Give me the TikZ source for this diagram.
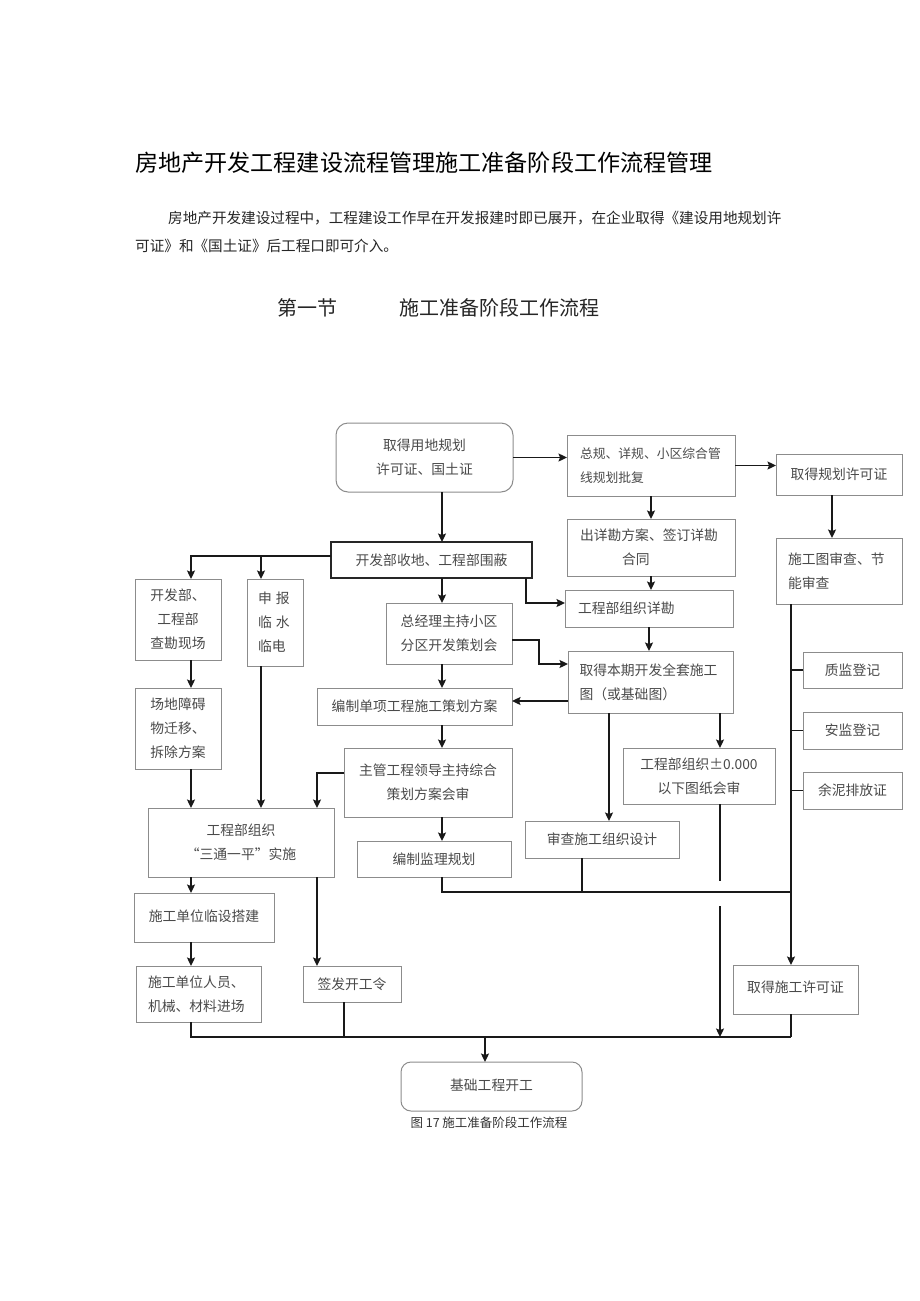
\documentclass[tikz,border=0pt]{standalone}
\usepackage{fontspec}
\setmainfont{Noto Sans CJK SC}
\usetikzlibrary{arrows.meta}
\definecolor{boxline}{HTML}{8C8C8C}
\definecolor{boxtext}{HTML}{4A4A4A}
\tikzset{
  box/.style={draw=boxline, line width=1pt, inner sep=0pt, outer sep=0pt, text=boxtext,
    font=\fontsize{13.8}{24}\selectfont, align=center},
  lbox/.style={box, align=left},
  ln/.style={draw=black!90, line width=1.5pt},
  arr/.style={-{Stealth[length=8.5pt,width=8pt,inset=1.5pt]}},
}
\begin{document}
\begin{tikzpicture}[x=1pt,y=-1pt]
\useasboundingbox (0,0) rectangle (920,1301);
\fill[white] (0,0) rectangle (920,1301);

% headings
\node[anchor=west, inner sep=0pt, font=\fontsize{23.1}{26}\selectfont] (title) at (135,163) {房地产开发工程建设流程管理施工准备阶段工作流程管理};
\node[anchor=north west, inner sep=0pt, align=left, text=black!85, font=\fontsize{14.6}{28}\selectfont] (para) at (135,211) {\hspace*{33pt}房地产开发建设过程中，工程建设工作早在开发报建时即已展开，在企业取得《建设用地规划许\\可证》和《国土证》后工程口即可介入。};
\node[anchor=west, inner sep=0pt, text=black!85, font=\fontsize{20}{24}\selectfont] (sec) at (277,308) {第一节\hspace{62pt}施工准备阶段工作流程};

% boxes
\node[box, rounded corners=12pt, minimum width=177pt, minimum height=69pt] (t1) at (424.5,457.5) {取得用地规划\\许可证、国土证};
\node[lbox, text width=142pt, font=\fontsize{12.8}{24}\selectfont, minimum width=168pt, minimum height=61pt] (t2) at (651,465.5) {总规、详规、小区综合管\\线规划批复};
\node[lbox, text width=142pt, minimum width=168pt, minimum height=57pt] (t3) at (651,547.5) {出详勘方案、签订详勘\\\hspace*{42pt}合同};
\node[box, draw=black!85, line width=1.5pt, minimum width=201pt, minimum height=36pt] (t4) at (431.5,560) {开发部收地、工程部围蔽};
\node[box, minimum width=86pt, minimum height=81pt] (t5) at (178,619.5) {开发部、\\工程部\\查勘现场};
\node[lbox, text width=34pt, minimum width=56pt, minimum height=87pt] (t6) at (275,622.5) {申\hspace{4pt}报\\临\hspace{4pt}水\\临电};
\node[box, minimum width=86pt, minimum height=81pt] (t7) at (178,728.5) {场地障碍\\物迁移、\\拆除方案};
\node[box, minimum width=126pt, minimum height=61pt] (t8) at (449,633.5) {总经理主持小区\\分区开发策划会};
\node[lbox, text width=142pt, minimum width=168pt, minimum height=37pt] (t9) at (649,608.5) {工程部组织详勘};
\node[lbox, text width=142pt, minimum width=165pt, minimum height=62pt] (t10) at (650.5,682) {取得本期开发全套施工\\图（或基础图）};
\node[box, minimum width=195pt, minimum height=37pt] (t11) at (414.5,706.5) {编制单项工程施工策划方案};
\node[box, minimum width=168pt, minimum height=69pt] (t12) at (428,782.5) {主管工程领导主持综合\\策划方案会审};
\node[box, minimum width=152pt, minimum height=56pt] (t13) at (699,776) {工程部组织±0.000\\以下图纸会审};
\node[box, minimum width=154pt, minimum height=37pt] (t14) at (602,839.5) {审查施工组织设计};
\node[box, minimum width=154pt, minimum height=36pt] (t15) at (434,859) {编制监理规划};
\node[box, minimum width=186pt, minimum height=69pt] (t16) at (241,842.5) {工程部组织\\“三通一平”实施};
\node[box, minimum width=140pt, minimum height=49pt] (t17) at (204,917.5) {\raisebox{4.5pt}{施工单位临设搭建}};
\node[lbox, text width=101pt, minimum width=125pt, minimum height=56pt] (t18) at (198.5,994) {施工单位人员、\\机械、材料进场};
\node[box, minimum width=98pt, minimum height=36pt] (t19) at (352,984) {签发开工令};
\node[box, minimum width=125pt, minimum height=49pt] (t20) at (795.5,989.5) {\raisebox{6.5pt}{取得施工许可证}};
\node[box, minimum width=126pt, minimum height=41pt] (t21) at (839,474.5) {取得规划许可证};
\node[lbox, text width=102pt, minimum width=126pt, minimum height=66pt] (t22) at (839,571) {施工图审查、节\\能审查};
\node[box, minimum width=99pt, minimum height=36pt] (t23) at (852.5,670) {质监登记};
\node[box, minimum width=99pt, minimum height=37pt] (t24) at (852.5,730.5) {安监登记};
\node[box, minimum width=99pt, minimum height=37pt] (t25) at (852.5,790.5) {余泥排放证};
\node[box, rounded corners=10pt, minimum width=181pt, minimum height=49pt] (t26) at (491.5,1086.5) {\raisebox{3pt}{基础工程开工}};
\node[inner sep=0pt, text=black!80, font=\fontsize{12.5}{14}\selectfont] (cap) at (489,1123) {图 17 施工准备阶段工作流程};

% column coordinates
\coordinate (xA) at (442,0);
\coordinate (xB) at (191,0);
\coordinate (xC) at (261,0);
\coordinate (xD) at (526,0);
\coordinate (xE) at (539,0);
\coordinate (xF) at (317,0);
\coordinate (xG) at (609,0);
\coordinate (xH) at (720,0);
\coordinate (xI) at (832,0);
\coordinate (xJ) at (791,0);
\coordinate (xK) at (582,0);
\coordinate (xL) at (344,0);
\coordinate (xM) at (485,0);
\coordinate (hY) at (0,892);
\coordinate (bY) at (0,1037);
\coordinate (g1) at (720,881);
\coordinate (g2) at (720,906);

% connectors
\draw[ln,arr] (t1.east) -- (t1.east -| t2.west);
\draw[ln,arr] (t2.east) -- (t2.east -| t21.west);
\draw[ln,arr] (t2.south) -- (t3.north);
\draw[ln,arr] (t3.south) -- (t3.south |- t9.north);
\draw[ln,arr] (t21.south -| xI) -- (t22.north -| xI);
\draw[ln,arr] (t1.south -| xA) -- (t4.north -| xA);
\draw[ln,arr] ([yshift=4pt]t4.west) -| (t5.north -| xB);
\draw[ln,arr] ([yshift=4pt]t4.west -| xC) -- (t6.north -| xC);
\draw[ln,arr] (t4.south -| xD) |- ([yshift=5.5pt]t9.west);
\draw[ln,arr] (t4.south -| xA) -- (t8.north -| xA);
\draw[ln,arr] (t9.south) -- (t9.south |- t10.north);
\draw[ln,arr] ([yshift=-6.5pt]t8.east) -| ([yshift=18pt]t10.west -| xE) -- ([yshift=18pt]t10.west);
\draw[ln,arr] ([yshift=-19pt]t10.west) -- ([yshift=-19pt]t10.west -| t11.east);
\draw[ln,arr] (t8.south -| xA) -- (t11.north -| xA);
\draw[ln,arr] (t11.south -| xA) -- (t12.north -| xA);
\draw[ln,arr] ([yshift=9.5pt]t12.west) -| (t16.north -| xF);
\draw[ln,arr] (t12.south -| xA) -- (t15.north -| xA);
\draw[ln,arr] (t10.south -| xG) -- (t14.north -| xG);
\draw[ln,arr] (t10.south -| xH) -- (t13.north -| xH);
\draw[ln,arr] (t5.south -| xB) -- (t7.north -| xB);
\draw[ln,arr] (t7.south -| xB) -- (t16.north -| xB);
\draw[ln,arr] (t6.south -| xC) -- (t16.north -| xC);
\draw[ln,arr] (t16.south -| xB) -- (t17.north -| xB);
\draw[ln,arr] (t17.south -| xB) -- (t18.north -| xB);
\draw[ln,arr] (t16.south -| xF) -- (t19.north -| xF);
\draw[ln,arr] (t22.south -| xJ) -- (t20.north -| xJ);
\draw[ln] (t23.west) -- (t23.west -| xJ);
\draw[ln] (t24.west) -- (t24.west -| xJ);
\draw[ln] (t25.west) -- (t25.west -| xJ);
\draw[ln] (t15.south -| xA) |- (hY -| xJ);
\draw[ln] (t14.south -| xK) -- (hY -| xK);
\draw[ln] (t13.south -| xH) -- (g1);
\draw[ln,arr] (g2) -- (bY -| xH);
\draw[ln] (t18.south -| xB) -- (bY -| xB) -- (bY -| xJ);
\draw[ln] (t19.south -| xL) -- (bY -| xL);
\draw[ln] (t20.south -| xJ) -- (bY -| xJ);
\draw[ln,arr] (bY -| xM) -- (t26.north -| xM);
\end{tikzpicture}
\end{document}
